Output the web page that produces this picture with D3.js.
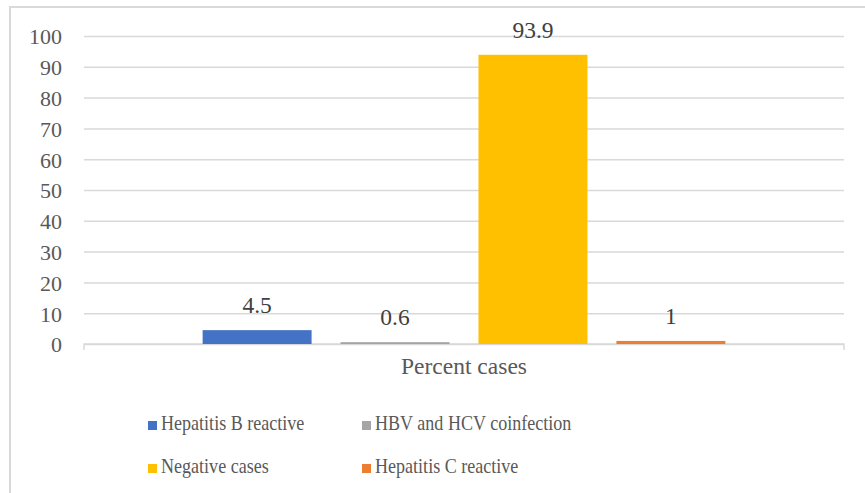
<!DOCTYPE html>
<html>
<head>
<meta charset="utf-8">
<script src="https://cdn.jsdelivr.net/npm/d3@7"></script>
</head>
<body style="margin:0; background:#fff">
<div id="chart"></div>
<script>
// Data
const category = "Percent cases";
const series = ["Hepatitis B reactive", "HBV and HCV coinfection", "Negative cases", "Hepatitis C reactive"];
const values = [4.5, 0.6, 93.9, 1];
const colors = ["#4472c4", "#a5a5a5", "#ffc000", "#ed7d31"];
const yTicks = [0, 10, 20, 30, 40, 50, 60, 70, 80, 90, 100];

const font = "Liberation Serif";
const textColor = "#595959";

const width = 865,
    height = 493,
    margin = { top: 36, right: 21, bottom: 149, left: 84 };

const svg = d3
    .select("#chart")
    .append("svg")
    .attr("width", width)
    .attr("height", height);

// Outer frame
svg.append("rect")
    .attr("x", 10)
    .attr("y", 7)
    .attr("width", width)
    .attr("height", height)
    .attr("fill", "none")
    .attr("stroke", "#d9d9d9")
    .attr("stroke-width", 2);

const y = d3
    .scaleLinear()
    .domain([0, 100])
    .range([height - margin.bottom, margin.top]);

const x = d3
    .scaleBand()
    .domain(series)
    .range([margin.left, width - margin.right])
    .paddingInner(0.21)
    .paddingOuter(0.86);

// Gridlines + tick labels
const yAxis = svg.append("g")
    .attr("transform", `translate(${margin.left},0)`)
    .call(d3.axisLeft(y).tickValues(yTicks).tickSize(-(width - margin.left - margin.right)).tickPadding(22));
yAxis.select(".domain").remove();
yAxis.selectAll(".tick line").attr("stroke", "#d9d9d9").attr("stroke-width", 1.5);
yAxis.selectAll(".tick text")
    .attr("font-family", font)
    .attr("font-size", 22)
    .attr("dy", "0.36em")
    .attr("fill", textColor);

// Category axis line
const x0 = d3.scaleBand().domain([category]).range([margin.left, width - margin.right]);
const xAxis = svg.append("g")
    .attr("transform", `translate(0,${y(0)})`)
    .call(d3.axisBottom(x0).tickSize(0).tickPadding(13));
xAxis.select(".domain")
    .attr("stroke", "#d9d9d9")
    .attr("stroke-width", 1.5)
    .attr("d", `M${margin.left},6V0H${width - margin.right}V6`);
xAxis.selectAll(".tick text")
    .attr("font-family", font)
    .attr("font-size", 23.5)
    .attr("fill", textColor);

// Bars
const bars = series.map((s, i) => ({ name: s, value: values[i], color: colors[i] }));
svg.append("g")
    .selectAll("rect")
    .data(bars)
    .join("rect")
    .attr("x", (d) => x(d.name))
    .attr("y", (d) => y(d.value))
    .attr("width", x.bandwidth())
    .attr("height", (d) => y(0) - y(d.value))
    .attr("fill", (d) => d.color);

// Value labels
svg.append("g")
    .selectAll("text")
    .data(bars)
    .join("text")
    .attr("x", (d) => x(d.name) + x.bandwidth() / 2)
    .attr("y", (d) => y(d.value) - 17)
    .attr("text-anchor", "middle")
    .attr("font-family", font)
    .attr("font-size", 23.5)
    .attr("fill", "#404040")
    .text((d) => d.value);

// Legend, two columns
const item = svg.append("g")
    .selectAll("g")
    .data(bars)
    .join("g")
    .attr("transform", (d, i) => `translate(${i % 2 ? 362 : 148},${i < 2 ? 430 : 473})`);
item.append("rect")
    .attr("x", 0)
    .attr("y", -9)
    .attr("width", 9)
    .attr("height", 9)
    .attr("fill", (d) => d.color);
item.append("text")
    .attr("transform", "translate(13,0) scale(0.86,1)")
    .attr("font-family", font)
    .attr("font-size", 21)
    .attr("fill", textColor)
    .text((d) => d.name);
</script>
</body>
</html>
